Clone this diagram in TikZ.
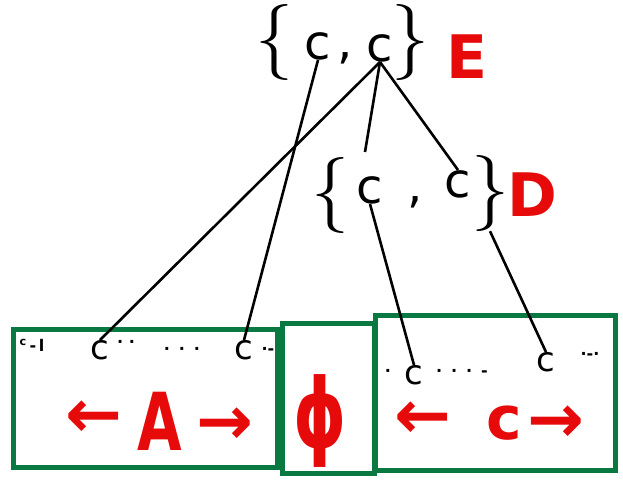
\documentclass[tikz,border=0pt]{standalone}
\usepackage{fontspec}
\newfontfamily\dv{DejaVu Sans}
\definecolor{boxgreen}{RGB}{10,120,65}
\definecolor{mred}{RGB}{230,10,10}
\begin{document}
\begin{tikzpicture}[x=1pt,y=-1pt,
  blk/.style={inner sep=0pt,font=\fontsize{76}{76}\selectfont},
  sym/.style={inner sep=0pt,font=\dv\fontsize{48}{48}\selectfont},
  small/.style={inner sep=0pt,font=\dv\fontsize{34}{34}\selectfont},
  tiny/.style={inner sep=0pt,font=\dv\bfseries\fontsize{16}{16}\selectfont},
  redt/.style={inner sep=0pt,text=mred,font=\dv\bfseries\fontsize{60}{60}\selectfont},
  redarrow/.style={redt,font=\dv\bfseries\fontsize{68}{68}\selectfont,anchor=base,text height=36pt,text depth=0pt},
  gbox/.style={draw=boxgreen,line width=5pt,inner sep=0pt},
  conn/.style={line width=2.6pt,black}]
\useasboundingbox (0,0) rectangle (623,480);
% boxes
\node[gbox,minimum width=264pt,minimum height=138pt] (boxA) at (145,398) {};
\node[gbox,minimum width=92pt,minimum height=150pt] (boxP) at (328,398) {};
\node[gbox,minimum width=240pt,minimum height=155pt] (boxC) at (495,393) {};
% top set E
\node[blk] (lbE) at (274,42) {\{};
\node[sym] (c1) at (318,46) {c};
\node[sym] (cmE) at (345,58) {,};
\node[sym] (c2) at (380,48) {c};
\node[blk] (rbE) at (410,42) {\}};
\node[redt] (E) at (467,57) {E};
% set D
\node[blk] (lbD) at (330,195) {\{};
\node[sym] (c3) at (370,190) {c};
\node[sym] (cmD) at (415,202) {,};
\node[sym] (c4) at (458,184) {c};
\node[blk] (rbD) at (490,193) {\}};
\node[redt] (D) at (532,195) {D};
% box texts
\node[tiny] (lA) at (32,345) {\textsuperscript{c}\,-\,\textbf{l}};
\node[small] (cA1) at (100,350) {c};
\node[tiny] (dA1) at (126,344) {· ·};
\node[tiny] (dotsA) at (182,351) {·\;\;·\;\;·};
\node[small] (cA2) at (244,350) {c};
\node[tiny] (dA2) at (268,351) {·-};
\node[small] (cC1) at (414,375) {c};
\node[tiny] (dotsC) at (462,373) {·\;\;·\;\;·\;\;-};
\node[small] (cC2) at (546,362) {c};
\node[tiny] (lC0) at (388,373) {·};
\node[tiny] (dC2) at (590,356) {·-·};
% red labels
\node[redarrow] (la) at (94,437) {←};
\node[redt,xscale=0.72,font=\dv\bfseries\fontsize{80}{80}\selectfont] (A) at (160,421) {A};
\node[redarrow] (ra) at (225,444) {→};
\node[redt,xscale=0.7,font=\dv\bfseries\fontsize{96}{96}\selectfont] (phi) at (320,421) {ϕ};
\node[redarrow] (lc) at (423,438) {←};
\node[redt] (cC) at (504,423) {c};
\node[redarrow] (rc) at (556,442) {→};
% connectors
\coordinate (tD) at (365,152);
\draw[conn] (c2.south) -- (cA1.north);
\draw[conn] (c2.south) -- (tD);
\draw[conn] (c2.south) -- (c4.north);
\draw[conn] (c1.south) -- (cA2.north);
\draw[conn] (c3.south) -- (cC1.north);
\draw[conn] (rbD.south) -- (cC2.north);
\end{tikzpicture}
\end{document}
